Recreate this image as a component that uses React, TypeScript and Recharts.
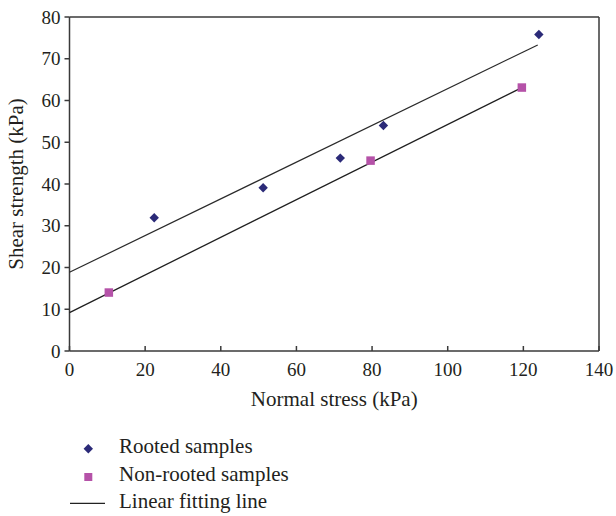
import React from 'react';
import { ComposedChart, Scatter, XAxis, YAxis, ReferenceLine } from 'recharts';

const xTicks = [0, 20, 40, 60, 80, 100, 120, 140];
const yTicks = [0, 10, 20, 30, 40, 50, 60, 70, 80];

const rootedStress = [22.4, 51.2, 71.6, 83.0, 124.1];
const rootedStrength = [31.9, 39.1, 46.2, 54.0, 75.8];

const nonRootedStress = [10.4, 79.6, 119.6];
const nonRootedStrength = [14.0, 45.6, 63.1];

const rootedFitX = [0, 123.8];
const rootedFitY = [18.85, 73.3];
const nonRootedFitX = [0, 119.6];
const nonRootedFitY = [9.2, 63.1];

const legendLabels = ['Rooted samples', 'Non-rooted samples', 'Linear fitting line'];

const toPoints = (xs: number[], ys: number[]) => xs.map((x, i) => ({ x, y: ys[i] }));

const rooted = toPoints(rootedStress, rootedStrength);
const nonRooted = toPoints(nonRootedStress, nonRootedStrength);
const rootedFit = toPoints(rootedFitX, rootedFitY);
const nonRootedFit = toPoints(nonRootedFitX, nonRootedFitY);

const NAVY = '#2b2a78';
const PINK = '#b552a8';
const AXIS = '#3a3a3a';
const FONT = '"Liberation Serif", "DejaVu Serif", serif';
const TEXT = '#231f20';

const Diamond = (props: any) => {
  const { cx, cy } = props;
  if (cx == null || cy == null) return null;
  const r = 4.7;
  return <polygon points={`${cx},${cy - r} ${cx + r},${cy} ${cx},${cy + r} ${cx - r},${cy}`} fill={NAVY} />;
};

const Square = (props: any) => {
  const { cx, cy } = props;
  if (cx == null || cy == null) return null;
  const s = 8.5;
  return <rect x={cx - s / 2} y={cy - s / 2} width={s} height={s} fill={PINK} />;
};

const NoShape = () => null;

const LegendBox = () => (
  <svg width={300} height={90} style={{ position: 'absolute', left: 60, top: 426 }}>
    <polygon points="28.3,18 33,22.7 28.3,27.4 23.6,22.7" fill={NAVY} />
    <text x={59} y={27} fontFamily={FONT} fontSize={21} fill={TEXT}>{legendLabels[0]}</text>
    <rect x={24.3} y={47} width={8} height={8} fill={PINK} />
    <text x={59} y={55} fontFamily={FONT} fontSize={21} fill={TEXT}>{legendLabels[1]}</text>
    <line x1={10} x2={45} y1={77.3} y2={77.3} stroke="#222" strokeWidth={1.2} />
    <text x={59} y={82} fontFamily={FONT} fontSize={21} fill={TEXT}>{legendLabels[2]}</text>
  </svg>
);

export default function App() {
  return (
    <div style={{ position: 'absolute', left: 0, top: 0, width: 616, height: 516, background: '#fff' }}>
      <ComposedChart
        width={616}
        height={516}
        margin={{ top: 17, right: 17, left: 0, bottom: 0 }}
      >
        <XAxis
          type="number"
          dataKey="x"
          domain={[0, 140]}
          ticks={xTicks}
          interval={0}
          tickSize={-5}
          tickMargin={17}
          tickLine={{ stroke: AXIS, strokeWidth: 1.5 }}
          tick={{ fontFamily: FONT, fontSize: 19, fill: TEXT }}
          axisLine={{ stroke: AXIS, strokeWidth: 1.5 }}
          height={165}
          label={{ value: 'Normal stress (kPa)', position: 'insideTop', offset: 40, fontFamily: FONT, fontSize: 21, fill: TEXT }}
        />
        <YAxis
          type="number"
          dataKey="y"
          domain={[0, 80]}
          ticks={yTicks}
          interval={0}
          width={69.5}
          tickSize={5}
          tickMargin={4}
          tickLine={{ stroke: AXIS, strokeWidth: 1.5 }}
          axisLine={{ stroke: AXIS, strokeWidth: 1.5 }}
          tick={{ fontFamily: FONT, fontSize: 19, fill: TEXT }}
          label={{ value: 'Shear strength (kPa)', angle: -90, position: 'insideLeft', offset: 16, style: { textAnchor: 'middle' }, fontFamily: FONT, fontSize: 21, fill: TEXT }}
        />
        <ReferenceLine y={80} stroke={AXIS} strokeWidth={1.5} />
        <ReferenceLine x={140} stroke={AXIS} strokeWidth={1.5} />
        <Scatter data={rootedFit} line={{ stroke: '#2a2a2a', strokeWidth: 1.2 }} shape={<NoShape />} isAnimationActive={false} legendType="none" />
        <Scatter data={nonRootedFit} line={{ stroke: '#1f1f1f', strokeWidth: 1.3 }} shape={<NoShape />} isAnimationActive={false} legendType="none" />
        <Scatter data={rooted} shape={<Diamond />} isAnimationActive={false} name="Rooted samples" />
        <Scatter data={nonRooted} shape={<Square />} isAnimationActive={false} name="Non-rooted samples" />
      </ComposedChart>
      <LegendBox />
    </div>
  );
}
